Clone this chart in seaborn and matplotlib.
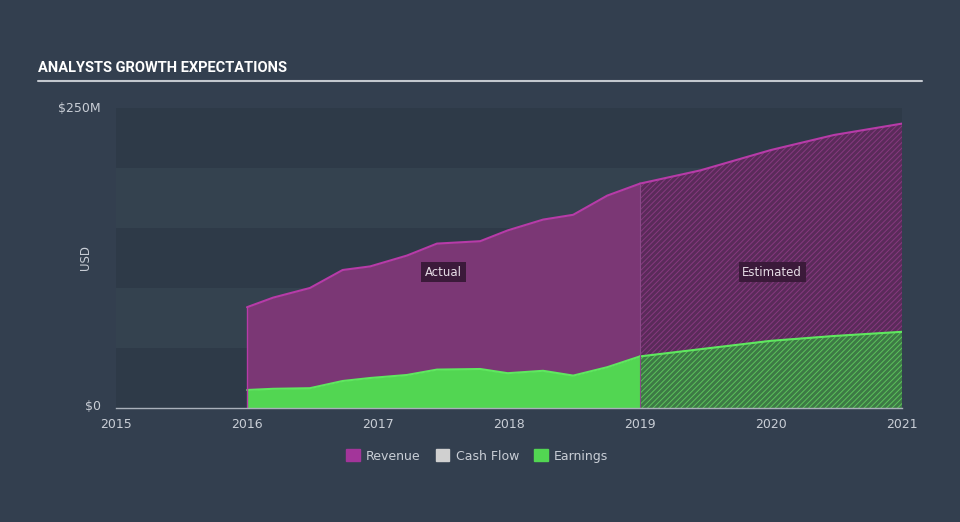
import numpy as np
import pandas as pd
import matplotlib
matplotlib.use('Agg')
import matplotlib.pyplot as plt
import matplotlib.patches as mpatches
import seaborn as sns

# --- data (USD millions) ---
actual_t = [2016.0, 2016.2, 2016.48, 2016.73, 2016.94, 2017.22, 2017.45, 2017.78,
            2017.99, 2018.26, 2018.49, 2018.75, 2019.0]
actual_revenue = [84, 92, 100, 115, 118, 127, 137, 139, 148, 157, 161, 177, 187]
actual_earnings = [15, 16, 16.5, 22.5, 25, 27.5, 32, 32.5, 29, 31, 27, 34, 43]

est_t = [2019.0, 2019.46, 2020.0, 2020.48, 2021.0]
est_revenue = [187, 198, 215, 227.5, 237]
est_earnings = [43, 49, 56, 60, 63.5]

year_ticks = [2015, 2016, 2017, 2018, 2019, 2020, 2021]
legend_names = ['Revenue', 'Cash Flow', 'Earnings']

BG = '#333f4f'
REV_FILL = '#7b3775'
REV_LINE = '#b73ba8'
EARN_FILL = '#52d652'
EARN_LINE = '#5fe85f'
TXT = '#c9ced6'

sns.set_theme(style='white')
plt.rcParams['font.family'] = ['DejaVu Sans']

fig = plt.figure(figsize=(9.6, 5.22), dpi=100, facecolor=BG)
ax = fig.add_axes([116 / 960, 114 / 522, 786 / 960, 300 / 522])
ax.set_facecolor(BG)
ax.set_xlim(2015, 2021)
ax.set_ylim(0, 250)

# alternating bands
for i, lo in enumerate(range(0, 250, 50)):
    col = '#2e3a48' if i % 2 == 0 else '#34424f'
    ax.axhspan(lo, lo + 50, color=col, lw=0, zorder=0)

act = pd.DataFrame({'t': actual_t, 'rev': actual_revenue, 'earn': actual_earnings})
est = pd.DataFrame({'t': est_t, 'rev': est_revenue, 'earn': est_earnings})

# actual areas
ax.fill_between(act['t'], act['earn'], act['rev'], color=REV_FILL, lw=0, zorder=2)
ax.fill_between(act['t'], 0, act['earn'], color=EARN_FILL, lw=0, zorder=2)

# estimated areas (hatched)
plt.rcParams['hatch.linewidth'] = 0.7
ax.fill_between(est['t'], est['earn'], est['rev'], facecolor='#5a2b5a',
                edgecolor='#86397f', hatch='//////', lw=0, zorder=2)
ax.fill_between(est['t'], 0, est['earn'], facecolor='#3d7a45',
                edgecolor='#5cc25c', hatch='//////', lw=0, zorder=2)

sns.lineplot(data=act, x='t', y='rev', color=REV_LINE, lw=1.5, ax=ax, zorder=3)
sns.lineplot(data=act, x='t', y='earn', color=EARN_LINE, lw=1.5, ax=ax, zorder=3)
sns.lineplot(data=est, x='t', y='rev', color=REV_LINE, lw=1.5, ax=ax, zorder=3)
sns.lineplot(data=est, x='t', y='earn', color=EARN_LINE, lw=1.5, ax=ax, zorder=3)
ax.plot([2016, 2016], [0, actual_revenue[0]], color=REV_LINE, lw=1, zorder=3)
ax.plot([2019, 2019], [0, est_revenue[0]], color='#8a4a88', lw=0.8, zorder=3)

# axes styling
for s in ['top', 'right', 'left']:
    ax.spines[s].set_visible(False)
ax.spines['bottom'].set_color('#a9b0ba')
ax.spines['bottom'].set_linewidth(1)
ax.spines['bottom'].set_zorder(4)
ax.set_xticks(year_ticks)
ax.set_xticklabels([str(y) for y in year_ticks], color=TXT, fontsize=9)
ax.tick_params(axis='x', length=6, width=1, color='#a9b0ba', pad=1, direction='out')
ax.set_yticks([])
ax.set_xlabel('')
ax.set_ylabel('')

fig.text(101 / 960, 1 - 108 / 522, '$250M', color=TXT, fontsize=9, ha='right', va='center')
fig.text(101 / 960, 1 - 407 / 522, '$0', color=TXT, fontsize=9, ha='right', va='center')
fig.text(86 / 960, 1 - 258 / 522, 'USD', color=TXT, fontsize=8.5, ha='center', va='center',
         rotation=90)

# Actual / Estimated tags
box = dict(boxstyle='square,pad=0.3', fc='#3b1a3a', ec='none')
ax.text(2017.5, 113, 'Actual', color='#e6dde6', fontsize=8.5, ha='center', va='center', bbox=box, zorder=5)
ax.text(2020.01, 113, 'Estimated', color='#e6dde6', fontsize=8.5, ha='center', va='center', bbox=box, zorder=5)

# title + rule
fig.text(38 / 960, 1 - 68 / 522, 'ANALYSTS GROWTH EXPECTATIONS', color='white', fontsize=10.5,
         fontweight='bold', family='Roboto', ha='left', va='center')
fig.add_artist(plt.Line2D([38 / 960, 922 / 960], [1 - 81 / 522, 1 - 81 / 522],
                          color='#c3c8cf', lw=1.5))

# legend
handles = [mpatches.Patch(color=c, label=n)
           for c, n in zip(['#a3359a', '#d0d0d0', EARN_FILL], legend_names)]
leg = fig.legend(handles=handles, loc='center', bbox_to_anchor=(477 / 960, 1 - 456 / 522),
                 ncol=3, frameon=False, fontsize=9, handlelength=1.1, handleheight=1.1,
                 columnspacing=1.2, handletextpad=0.5)
for t in leg.get_texts():
    t.set_color(TXT)

fig.savefig('out.png', dpi=100, facecolor=BG)
